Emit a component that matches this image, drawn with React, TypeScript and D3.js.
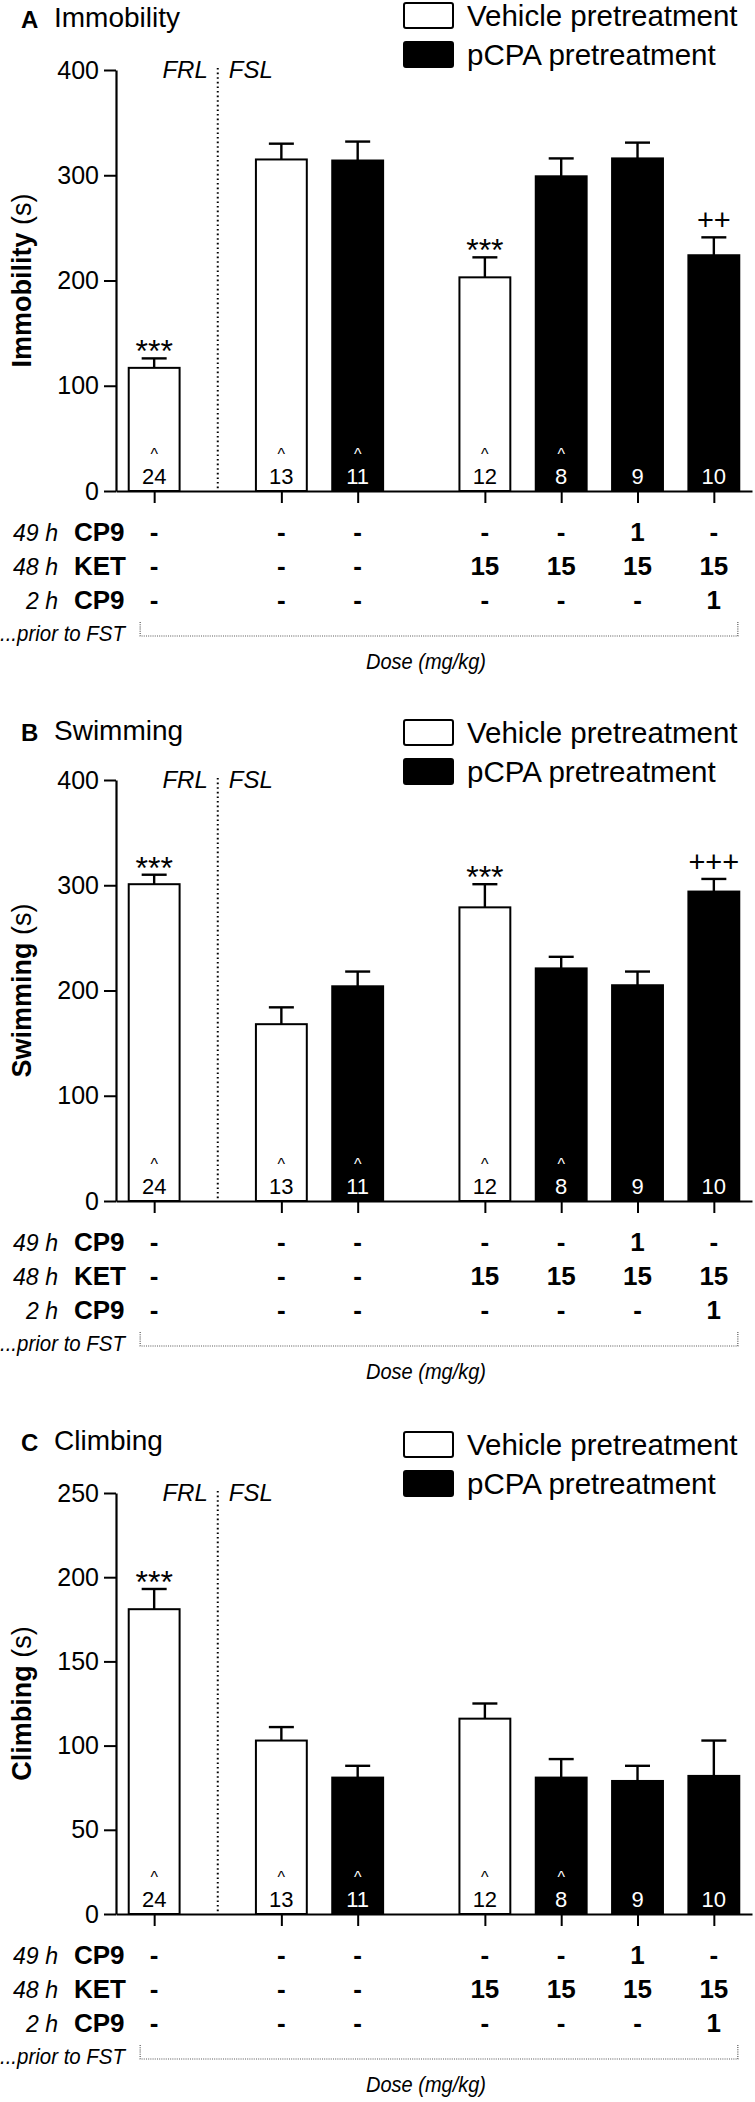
import React, { useEffect, useRef } from 'react';
import * as d3 from 'd3';

// groups, left to right
const groups = ['FRL vehicle', 'FSL vehicle', 'FSL pCPA', 'FSL vehicle + KET', 'FSL pCPA + KET', 'FSL pCPA + CP9(49h) + KET', 'FSL pCPA + KET + CP9(2h)'];
const groupCluster = [0, 1, 1, 2, 2, 2, 2];
const pretreatment = ['vehicle', 'vehicle', 'pcpa', 'vehicle', 'pcpa', 'pcpa', 'pcpa'];
const sampleSizes = ['24', '13', '11', '12', '8', '9', '10'];
const caretMarks = [true, true, true, true, true, false, false];

// dose table
const cp9At49h = ['-', '-', '-', '-', '-', '1', '-'];
const ketAt48h = ['-', '-', '-', '15', '15', '15', '15'];
const cp9At2h = ['-', '-', '-', '-', '-', '-', '1'];

// A: immobility (s)
const immobilityMean = [117, 315, 314, 203, 299, 316, 224];
const immobilitySem = [9, 15, 18, 19, 17, 15, 17];
const immobilitySig = ['***', '', '', '***', '', '', '++'];
const immobilityTicks = [0, 100, 200, 300, 400];

// B: swimming (s)
const swimmingMean = [301, 168, 204, 279, 221, 205, 294];
const swimmingSem = [9, 16, 14, 22, 11, 13, 12];
const swimmingSig = ['***', '', '', '***', '', '', '+++'];
const swimmingTicks = [0, 100, 200, 300, 400];

// C: climbing (s)
const climbingMean = [181, 103, 81, 116, 81, 79, 82];
const climbingSem = [12, 8, 7, 9, 11, 9, 21];
const climbingSig = ['***', '', '', '', '', '', ''];
const climbingTicks = [0, 50, 100, 150, 200, 250];

const legendLabels = ['Vehicle pretreatment', 'pCPA pretreatment'];

const FONT = '"Liberation Sans", Arial, Helvetica, sans-serif';

export default function App() {
  const chartRef = useRef<SVGSVGElement>(null);

  useEffect(() => {
    if (!chartRef.current) return;

    const svg = d3.select(chartRef.current);
    svg.selectAll('*').remove();

    const panels = [
      { letter: 'A', title: 'Immobility', mean: immobilityMean, sem: immobilitySem, sig: immobilitySig, ticks: immobilityTicks, top: 70, titleY: 27, legendY: 3 },
      { letter: 'B', title: 'Swimming', mean: swimmingMean, sem: swimmingSem, sig: swimmingSig, ticks: swimmingTicks, top: 780, titleY: 740, legendY: 720 },
      { letter: 'C', title: 'Climbing', mean: climbingMean, sem: climbingSem, sig: climbingSig, ticks: climbingTicks, top: 1493, titleY: 1450, legendY: 1432 },
    ];

    const doseRows = [
      { time: '49 h', drug: 'CP9', values: cp9At49h },
      { time: '48 h', drug: 'KET', values: ketAt48h },
      { time: '2 h', drug: 'CP9', values: cp9At2h },
    ];

    // bar slots with a gap between the three clusters
    const slots = groups.map((_, i) => i + groupCluster[i] * (2 / 3));
    const x = d3.scaleLinear()
      .domain([-0.5, slots[slots.length - 1] + 0.5])
      .range([116, 752]);
    const barW = x(2 / 3) - x(0);
    const plotHeight = 421;

    panels.forEach(p => {
      const g = svg.append('g').attr('font-family', FONT).attr('fill', '#000');
      const y = d3.scaleLinear()
        .domain([0, p.ticks[p.ticks.length - 1]])
        .range([p.top + plotHeight, p.top]);
      const base = y(0);

      // panel title
      g.append('text')
        .attr('x', 21).attr('y', p.titleY + 1)
        .attr('font-size', 24).attr('font-weight', 'bold')
        .text(p.letter);
      g.append('text')
        .attr('x', 54).attr('y', p.titleY)
        .attr('font-size', 28)
        .text(p.title);

      // legend
      legendLabels.forEach((label, i) => {
        const ly = p.legendY + i * 39;
        g.append('rect')
          .attr('x', 404).attr('y', ly)
          .attr('width', 49).attr('height', 25)
          .attr('rx', 2)
          .attr('fill', i === 0 ? '#fff' : '#000')
          .attr('stroke', '#000').attr('stroke-width', 2);
        g.append('text')
          .attr('x', 467).attr('y', ly + 23)
          .attr('font-size', 29.5)
          .text(label);
      });

      // y axis
      const yAxis = g.append('g')
        .attr('transform', `translate(${x.range()[0]},0)`)
        .call(d3.axisLeft(y).tickValues(p.ticks).tickSize(12).tickSizeOuter(0).tickPadding(5).tickFormat(d3.format('d')));
      yAxis.select('.domain').attr('stroke-width', 2.2);
      yAxis.selectAll('.tick line').attr('stroke-width', 2);
      yAxis.selectAll('.tick text')
        .attr('font-family', FONT).attr('font-size', 25).attr('fill', '#000');

      // y label
      const yl = g.append('text')
        .attr('transform', `translate(31, ${(y.range()[0] + y.range()[1]) / 2}) rotate(-90)`)
        .attr('text-anchor', 'middle')
        .attr('font-size', 27);
      yl.append('tspan').attr('font-weight', 'bold').text(p.title);
      yl.append('tspan').text(' (s)');

      // FRL / FSL divider
      const divX = (x(slots[0]) + x(slots[1])) / 2;
      g.append('line')
        .attr('x1', divX).attr('x2', divX)
        .attr('y1', p.top - 2).attr('y2', base)
        .attr('stroke', '#000').attr('stroke-width', 2)
        .attr('stroke-dasharray', '1.6,3');
      g.append('text')
        .attr('x', divX - 10).attr('y', p.top + 8)
        .attr('text-anchor', 'end').attr('font-style', 'italic').attr('font-size', 24)
        .text('FRL');
      g.append('text')
        .attr('x', divX + 11).attr('y', p.top + 8)
        .attr('font-style', 'italic').attr('font-size', 24)
        .text('FSL');

      // bars
      groups.forEach((_, i) => {
        const cx = x(slots[i]);
        const top = y(p.mean[i]);
        const errTop = y(p.mean[i] + p.sem[i]);
        const dark = pretreatment[i] === 'pcpa';

        g.append('line')
          .attr('x1', cx).attr('x2', cx)
          .attr('y1', top).attr('y2', errTop)
          .attr('stroke', '#000').attr('stroke-width', 2.4);
        g.append('line')
          .attr('x1', cx - 12.5).attr('x2', cx + 12.5)
          .attr('y1', errTop).attr('y2', errTop)
          .attr('stroke', '#000').attr('stroke-width', 2.4);

        g.append('rect')
          .attr('x', cx - barW / 2).attr('y', top)
          .attr('width', barW).attr('height', base - top)
          .attr('fill', dark ? '#000' : '#fff')
          .attr('stroke', '#000').attr('stroke-width', 2);

        // significance marks
        if (p.sig[i]) {
          const isStar = p.sig[i].startsWith('*');
          g.append('text')
            .attr('x', cx).attr('y', isStar ? errTop + 4 : errTop - 7)
            .attr('text-anchor', 'middle').attr('font-size', isStar ? 32 : 29)
            .text(p.sig[i]);
        }

        // n per group, with a caret above it
        const ink = dark ? '#fff' : '#000';
        if (caretMarks[i]) {
          g.append('text')
            .attr('x', cx).attr('y', base - 31)
            .attr('text-anchor', 'middle').attr('font-size', 16)
            .attr('fill', ink)
            .text('^');
        }
        g.append('text')
          .attr('x', cx).attr('y', base - 7)
          .attr('text-anchor', 'middle').attr('font-size', 22)
          .attr('fill', ink)
          .text(sampleSizes[i]);
      });

      // x axis
      const xAxis = g.append('g')
        .attr('transform', `translate(0,${base})`)
        .call(d3.axisBottom(x).tickValues(slots).tickSize(12).tickSizeOuter(0).tickFormat(() => ''));
      xAxis.select('.domain').attr('stroke-width', 2.2);
      xAxis.selectAll('.tick line').attr('stroke-width', 2);

      // dose table
      doseRows.forEach((row, r) => {
        const ry = base + 50 + r * 34;
        g.append('text')
          .attr('x', 58).attr('y', ry)
          .attr('text-anchor', 'end').attr('font-style', 'italic').attr('font-size', 23)
          .attr('textLength', row.time.length > 3 ? 45 : 32).attr('lengthAdjust', 'spacingAndGlyphs')
          .text(row.time);
        g.append('text')
          .attr('x', 74).attr('y', ry)
          .attr('font-weight', 'bold').attr('font-size', 26)
          .text(row.drug);
        row.values.forEach((v, i) => {
          g.append('text')
            .attr('x', x(slots[i])).attr('y', ry)
            .attr('text-anchor', 'middle').attr('font-weight', 'bold').attr('font-size', 26)
            .text(v);
        });
      });

      g.append('text')
        .attr('x', 0).attr('y', base + 150)
        .attr('font-style', 'italic').attr('font-size', 22)
        .attr('textLength', 125).attr('lengthAdjust', 'spacingAndGlyphs')
        .text('...prior to FST');

      // dotted bracket under the dose table
      const bl = x(slots[0]) - 14;
      const br = x(slots[slots.length - 1]) + 24;
      g.append('path')
        .attr('d', `M${bl},${base + 131}V${base + 145}H${br}V${base + 131}`)
        .attr('fill', 'none').attr('stroke', '#555').attr('stroke-width', 1.2)
        .attr('stroke-dasharray', '1,1.2');

      g.append('text')
        .attr('x', 426).attr('y', base + 178)
        .attr('text-anchor', 'middle').attr('font-style', 'italic').attr('font-size', 22)
        .attr('textLength', 120).attr('lengthAdjust', 'spacingAndGlyphs')
        .text('Dose (mg/kg)');
    });
  }, []);

  return (
    <svg
      ref={chartRef}
      width={755}
      height={2102}
      viewBox="0 0 755 2102"
      style={{ position: 'absolute', left: 0, top: 0, background: '#fff' }}
    />
  );
}
